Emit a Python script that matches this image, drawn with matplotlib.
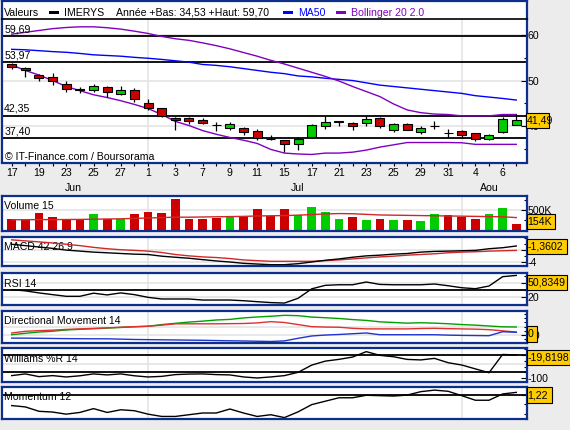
import matplotlib
matplotlib.use('Agg')
import matplotlib.pyplot as plt
from matplotlib.patches import Rectangle
from matplotlib import transforms
import numpy as np

plt.rcParams['font.family'] = ['Liberation Sans', 'DejaVu Sans']

# ---------------- data ----------------
days = [17, 18, 19, 20, 23, 24, 25, 26, 27, 30,
        1, 2, 3, 4, 7, 8, 9, 10, 11, 14, 15, 16, 17, 18, 21, 22, 23, 24, 25, 28, 29, 30, 31,
        1, 4, 5, 6, 7]
months = ['Jun'] * 10 + ['Jul'] * 23 + ['Aou'] * 5

opens = [53.53, 52.80, 51.20, 50.77, 49.17, 48.20, 47.86, 48.58, 46.99, 48.00,
         45.03, 43.94, 41.83, 41.83, 41.32, 40.42, 39.72, 39.57, 38.92, 37.30,
         36.96, 36.09, 37.76, 40.16, 40.95, 40.74, 40.81, 41.83, 39.28, 40.52,
         38.85, 40.16, 38.63, 38.92, 38.48, 37.18, 38.85, 40.30]
highs = [53.80, 52.95, 51.41, 51.64, 49.97, 48.51, 49.24, 48.87, 48.80, 48.30,
         45.97, 43.94, 42.12, 42.04, 41.83, 40.88, 40.88, 39.86, 39.42, 38.12,
         36.96, 37.69, 40.52, 42.33, 41.10, 41.03, 42.26, 41.98, 40.74, 40.67,
         40.16, 41.10, 39.42, 39.13, 38.48, 38.41, 42.04, 42.63]
lows = [52.45, 50.85, 50.00, 49.10, 47.57, 47.20, 47.57, 46.48, 46.84, 45.39,
        43.50, 42.04, 39.28, 40.52, 40.60, 38.99, 39.28, 38.12, 37.10, 37.10,
        34.41, 34.92, 37.47, 39.50, 40.16, 39.21, 40.16, 39.72, 38.77, 39.28,
        38.41, 39.35, 37.76, 37.40, 36.81, 36.96, 38.63, 40.23]
closes = [52.95, 52.22, 50.48, 49.97, 48.08, 47.95, 48.73, 47.50, 48.00, 45.97,
          43.94, 42.33, 41.32, 41.10, 40.81, 40.42, 40.45, 38.85, 37.40, 37.22,
          36.09, 37.25, 40.30, 40.96, 41.08, 40.16, 41.54, 40.16, 40.45, 39.28,
          39.57, 40.16, 38.63, 38.19, 37.32, 38.05, 41.54, 41.49]

ma50 = [56.8, 56.7, 56.5, 56.3, 56.15, 55.9, 55.6, 55.45, 55.3, 55.05,
        54.85, 54.6, 54.3, 54.0, 53.5, 53.3, 53.0, 52.6, 52.2, 51.8,
        51.5, 51.0, 50.8, 50.5, 50.25, 50.0, 49.5, 49.0, 48.7, 48.4,
        48.1, 47.8, 47.5, 47.2, 46.7, 46.4, 46.1, 45.75]
boll_up = [60.1, 60.5, 60.9, 61.3, 61.55, 61.7, 61.7, 61.5, 61.2, 60.75,
           60.25, 59.6, 59.1, 58.75, 58.2, 57.6, 56.9, 56.1, 55.3, 54.4,
           53.6, 52.7, 51.8, 50.9, 49.9, 48.7, 47.6, 46.5, 44.9, 43.6,
           43.0, 42.7, 42.6, 42.3, 42.3, 42.3, 42.6, 42.6]
boll_dn = [53.4, 52.2, 51.2, 50.0, 48.7, 47.8, 46.9, 46.3, 45.6, 44.8,
           43.9, 42.6, 41.1, 40.2, 39.1, 38.3, 37.6, 37.0, 36.3, 35.0,
           34.2, 34.0, 33.9, 34.2, 34.2, 34.4, 34.85, 35.5, 36.0, 36.5,
           36.5, 36.5, 36.5, 36.45, 36.1, 36.1, 36.1, 36.1]
ref_levels = [59.69, 53.97, 42.35, 37.40]

volume_k = [275, 258, 430, 327, 250, 250, 404, 292, 275, 404,
            456, 430, 791, 275, 275, 301, 370, 344, 533, 370,
            533, 396, 585, 456, 275, 327, 250, 275, 250, 250,
            224, 420, 396, 344, 275, 420, 550, 154]
volume_up = [0, 0, 0, 0, 0, 0, 1, 0, 1, 0,
             0, 0, 0, 0, 0, 0, 1, 0, 0, 0,
             0, 1, 1, 1, 1, 0, 1, 0, 1, 0,
             1, 1, 0, 0, 0, 1, 1, 0]
volume_ma_k = [267, 267, 270, 270, 272, 275, 280, 285, 290, 300,
               310, 320, 330, 330, 335, 340, 345, 350, 360, 365,
               370, 380, 395, 410, 420, 415, 400, 385, 380, 375,
               370, 365, 360, 355, 350, 345, 340, 320]

macd = [-1.07, -1.30, -1.53, -1.76, -2.05, -2.22, -2.39, -2.50, -2.62, -2.73,
        -2.79, -3.07, -3.25, -3.42, -3.65, -3.87, -4.05, -4.27, -4.39, -4.50,
        -4.50, -4.33, -4.05, -3.76, -3.53, -3.25, -3.02, -2.90, -2.73, -2.62,
        -2.39, -2.27, -2.22, -2.16, -2.10, -1.82, -1.65, -1.3602]
macd_signal = [-0.33, -0.50, -0.67, -0.85, -1.07, -1.30, -1.59, -1.82, -1.99, -2.10,
               -2.22, -2.45, -2.79, -3.02, -3.19, -3.30, -3.47, -3.70, -3.82, -3.93,
               -3.93, -3.93, -3.93, -3.82, -3.70, -3.53, -3.36, -3.19, -3.07, -2.90,
               -2.79, -2.67, -2.50, -2.39, -2.33, -2.22, -2.16, -2.10]

rsi = [30.2, 28.5, 25.5, 23.0, 20.6, 20.6, 25.1, 22.6, 25.5, 23.0,
       19.1, 16.7, 16.7, 16.7, 15.2, 15.2, 15.2, 14.2, 12.8, 11.5,
       10.8, 17.7, 31.4, 36.5, 37.3, 37.3, 41.3, 37.8, 37.3, 37.3,
       37.3, 38.4, 35.9, 33.0, 31.6, 35.5, 49.0, 50.8349]

dm_green = [10.3, 12.0, 13.5, 14.5, 16.0, 16.8, 17.5, 18.3, 19.0, 19.8,
            20.5, 22.5, 24.0, 25.5, 26.6, 28.0, 28.7, 30.5, 31.6, 32.5,
            33.6, 33.2, 31.5, 30.7, 29.8, 28.5, 27.5, 25.8, 25.0, 24.2,
            24.7, 24.2, 23.5, 22.5, 21.8, 20.8, 19.8, 19.6]
dm_red = [12.4, 14.4, 15.2, 15.8, 16.7, 17.3, 17.9, 18.5, 19.3, 20.0,
          20.5, 21.8, 23.4, 23.4, 23.4, 23.4, 23.6, 23.8, 24.5, 26.0,
          25.0, 22.5, 20.0, 19.5, 19.3, 18.0, 17.3, 17.3, 17.3, 17.3,
          17.8, 18.0, 17.6, 17.3, 17.0, 16.4, 15.0, 13.5]
dm_blue = [6.2, 6.2, 6.0, 5.8, 5.6, 5.5, 5.4, 5.4, 5.0, 4.6,
           4.4, 4.2, 4.0, 3.8, 3.6, 3.3, 3.0, 2.8, 2.5, 2.2,
           2.9, 6.0, 8.8, 9.9, 10.6, 11.5, 12.4, 10.3, 10.3, 10.3,
           10.3, 10.3, 9.8, 9.5, 9.3, 9.1, 13.9, 13.2]

williams = [-91.4, -85.5, -94.9, -91.4, -96.1, -92.0, -85.5, -89.0, -85.5, -92.0,
            -96.1, -94.0, -87.9, -86.0, -85.5, -87.9, -89.0, -96.0, -99.6, -96.0,
            -91.4, -80.0, -55.0, -41.1, -35.0, -27.0, -8.3, -21.2, -25.9, -35.2,
            -37.0, -31.6, -46.6, -54.7, -68.0, -81.4, -18.0, -19.8198]

momentum = [-5.7, -6.4, -8.7, -9.1, -10.2, -9.3, -7.3, -9.3, -7.9, -8.4,
            -10.2, -11.4, -11.4, -10.5, -9.6, -9.6, -7.5, -9.6, -11.4, -10.5,
            -12.0, -9.0, -5.2, -3.4, -1.6, -1.6, -0.3, -0.5, -0.7, -0.2,
            1.6, 2.4, 1.8, -0.5, -2.9, -2.9, 0.4, 1.22]
dm_last_label = '0'

# ---------------- style ----------------
W, H = 570, 430
FS = 7.6
BORDER = '#0D2E8C'
GRID = '#E2E2E2'
RED = '#CC0000'
GREEN = '#00CC00'
PURPLE = '#8000C0'
BG = '#ECECEC'
YELLOW = '#FFCC00'


def fx(px):
    return px / W


def fy(py):
    return 1 - py / H


def fr(v, d):
    return f'{v:.{d}f}'.replace('.', ',')


n = len(closes)
x = np.arange(n)
month_starts = [i for i in range(1, n) if months[i] != months[i - 1]]
XL = (-0.71, 37.75)

fig = plt.figure(figsize=(W / 100, H / 100), dpi=100, facecolor=BG)


def panel(top, bottom):
    ax = fig.add_axes([fx(2), fy(bottom), fx(526.5) - fx(2), fy(top) - fy(bottom)])
    ax.set_facecolor('white')
    for s in ax.spines.values():
        s.set_color(BORDER)
        s.set_linewidth(1.6)
    ax.set_xlim(*XL)
    ax.yaxis.tick_right()
    ax.tick_params(axis='y', which='both', direction='in', labelsize=FS, pad=1.0, width=0.8)
    ax.tick_params(axis='y', which='major', length=4)
    ax.tick_params(axis='y', which='minor', length=2.5)
    for xi in month_starts:
        ax.axvline(xi, color=GRID, lw=1.1, zorder=0.5)
    return ax


def title(ax, text, top, bottom):
    ax.text(2 / 524.5, 1 - 10.5 / (bottom - top), text, transform=ax.transAxes,
            fontsize=FS, va='center', ha='left', zorder=1)


def value_box(text, x0, y0, x1, y1):
    fig.add_artist(Rectangle((fx(x0), fy(y1)), fx(x1) - fx(x0), fy(y0) - fy(y1),
                             transform=fig.transFigure, facecolor=YELLOW,
                             edgecolor='black', lw=0.8, zorder=5))
    fig.text(fx(x0 + 1.0), fy((y0 + y1) / 2), text, va='center', ha='left',
             fontsize=FS, zorder=6)


def hgrid(ax, vals):
    for v in vals:
        ax.axhline(v, color=GRID, lw=1.1, zorder=0.5)


# ---------------- header ----------------
hax = fig.add_axes([fx(2), fy(19), fx(526.5) - fx(2), fy(1) - fy(19)])
hax.set_facecolor('white')
hax.set_xticks([])
hax.set_yticks([])
for k, s in hax.spines.items():
    s.set_color(BORDER)
    s.set_linewidth(1.6)
hax.spines['bottom'].set_visible(False)

hy = fy(12.7)
fig.text(fx(4), hy, 'Valeurs', fontsize=FS, va='center')
fig.add_artist(Rectangle((fx(49), fy(14.3)), fx(10), fy(11.3) - fy(14.3), transform=fig.transFigure,
                         facecolor='black', edgecolor='none'))
fig.text(fx(64), hy, 'IMERYS', fontsize=FS, va='center')
fig.text(fx(116), hy, 'Année +Bas: 34,53 +Haut: 59,70', fontsize=FS, va='center')
fig.add_artist(Rectangle((fx(283), fy(14.3)), fx(10), fy(11.3) - fy(14.3), transform=fig.transFigure,
                         facecolor='#0000FF', edgecolor='none'))
fig.text(fx(298), hy, 'MA50', fontsize=FS, va='center', color='#0000FF')
fig.add_artist(Rectangle((fx(336), fy(14.3)), fx(10), fy(11.3) - fy(14.3), transform=fig.transFigure,
                         facecolor=PURPLE, edgecolor='none'))
fig.text(fx(351), hy, 'Bollinger 20 2.0', fontsize=FS, va='center', color=PURPLE)

# ---------------- main price panel ----------------
ax = panel(19, 162.5)
ax.spines['top'].set_color('black')
ax.spines['top'].set_linewidth(1.2)
ax.set_ylim(32.15, 63.4)
ax.set_yticks([40, 50, 60])
ax.set_yticks([35, 45, 55], minor=True)
hgrid(ax, [40, 50, 60])
for lv in ref_levels:
    ax.axhline(lv, color='black', lw=1.3, zorder=1.5)
    ax.annotate(fr(lv, 2), xy=(0, lv), xycoords=('axes fraction', 'data'),
                xytext=(1.5, 5), textcoords='offset points', fontsize=FS, va='center', ha='left')
ax.plot(x, ma50, color='#0000FF', lw=1.0, zorder=2)
ax.plot(x, boll_up, color=PURPLE, lw=1.0, zorder=2)
ax.plot(x, boll_dn, color=PURPLE, lw=1.0, zorder=2)
o = np.array(opens)
c = np.array(closes)
ax.vlines(x, lows, highs, color='black', lw=0.9, zorder=3)
ax.bar(x, c - o, bottom=o, width=0.66, color=np.where(c >= o, GREEN, RED),
       edgecolor='black', linewidth=0.8, zorder=4)
ax.set_xticks(x)
ax.set_xticklabels([str(d) if i % 2 == 0 else '' for i, d in enumerate(days)])
ax.tick_params(axis='x', direction='out', length=2.5, width=0.8, pad=1.5, labelsize=FS)
fig.text(fx(5), fy(156.7), '© IT-Finance.com / Boursorama', fontsize=FS, va='center')
bt = transforms.blended_transform_factory(ax.transData, fig.transFigure)
for m in dict.fromkeys(months):
    idx = [i for i in range(n) if months[i] == m]
    ax.text((idx[0] + idx[-1]) / 2, fy(187.7), m, transform=bt, ha='center', va='center', fontsize=FS)
value_box(fr(closes[-1], 2), 526, 113.3, 549.3, 128.3)

# ---------------- volume ----------------
top, bot = 196, 230.5
av = panel(top, bot)
av.set_xticks([])
av.set_ylim(0, 855)
av.set_yticks([500])
av.set_yticklabels(['500K'])
av.set_yticks([250, 750], minor=True)
hgrid(av, [500])
av.bar(x, volume_k, width=0.64, color=[GREEN if u else RED for u in volume_up], zorder=2)
av.plot(x, volume_ma_k, color='#D02828', lw=1.0, zorder=3)
title(av, 'Volume 15', top, bot)
value_box(f'{volume_k[-1]}K', 526.7, 214, 555, 229.3)

# ---------------- MACD ----------------
top, bot = 236.7, 266
am = panel(top, bot)
am.set_xticks([])
am.set_ylim(-4.72, 0.2)
am.set_yticks([-4, -2])
am.set_yticklabels(['-4', ''])
am.set_yticks([-3, -1, 0], minor=True)
hgrid(am, [-4, -2])
title(am, 'MACD 42 26 9', top, bot)
am.plot(x, macd_signal, color='#D02828', lw=1.0, zorder=2)
am.plot(x, macd, color='black', lw=1.0, zorder=2)
value_box(fr(macd[-1], 4), 526.7, 239.3, 566.7, 254)

# ---------------- RSI ----------------
top, bot = 273.3, 305
ar = panel(top, bot)
ar.set_xticks([])
ar.set_ylim(8.0, 53.9)
ar.set_yticks([20, 40])
ar.set_yticklabels(['20', ''])
ar.set_yticks([10, 30, 50], minor=True)
hgrid(ar, [20, 40])
title(ar, 'RSI 14', top, bot)
ar.axhline(30, color='black', lw=1.3, zorder=1.5)
ar.plot(x, rsi, color='black', lw=1.0, zorder=2)
value_box(fr(rsi[-1], 4), 526.7, 275, 566.7, 290)

# ---------------- Directional movement ----------------
top, bot = 311, 343.3
ad = panel(top, bot)
ad.set_xticks([])
ad.set_ylim(0, 38.8)
ad.set_yticks([10])
ad.set_yticks([5, 15, 20, 25, 30, 35], minor=True)
hgrid(ad, [10, 20])
title(ad, 'Directional Movement 14', top, bot)
ad.plot(x, dm_green, color='#00A000', lw=1.0, zorder=2)
ad.plot(x, dm_red, color='#E03030', lw=1.0, zorder=2)
ad.plot(x, dm_blue, color='#2035D0', lw=1.0, zorder=2)
value_box(dm_last_label, 526.7, 325.7, 536.7, 341.7)

# ---------------- Williams %R ----------------
top, bot = 348.3, 381.7
aw = panel(top, bot)
aw.set_xticks([])
aw.set_ylim(-112.5, 3.3)
aw.set_yticks([-100, -20])
aw.set_yticklabels(['-100', ''])
aw.set_yticks([-80, -60, -40, 0], minor=True)
hgrid(aw, [-50])
title(aw, 'Williams %R 14', top, bot)
aw.axhline(-20, color='black', lw=1.3, zorder=1.5)
aw.axhline(-80, color='black', lw=1.3, zorder=1.5)
aw.plot(x, williams, color='black', lw=1.0, zorder=2)
value_box(fr(williams[-1], 4), 526.7, 350, 570, 365)

# ---------------- Momentum ----------------
top, bot = 386.7, 419.3
ao = panel(top, bot)
ao.set_xticks([])
ao.set_ylim(-12.9, 4.2)
ao.set_yticks([0])
ao.set_yticklabels([''])
ao.set_yticks([-10, -5], minor=True)
title(ao, 'Momentum 12', top, bot)
ao.axhline(0, color='black', lw=1.3, zorder=1.5)
ao.plot(x, momentum, color='black', lw=1.0, zorder=2)
value_box(fr(momentum[-1], 2), 526.7, 387.3, 551.7, 402.7)

fig.savefig('out.png', dpi=100, facecolor=BG)
